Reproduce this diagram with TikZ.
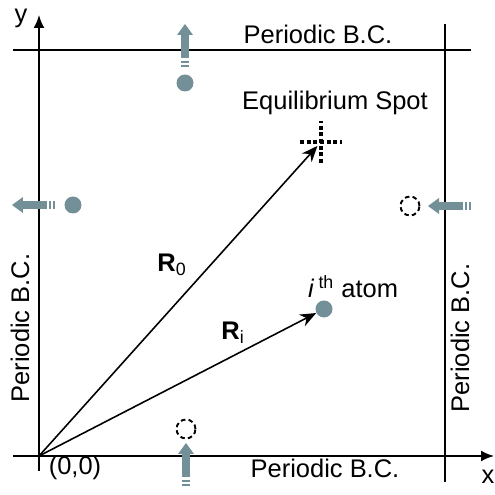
\documentclass[tikz,border=0pt]{standalone}
\usepackage{fontspec}
\setmainfont{Liberation Sans}
\usetikzlibrary{arrows.meta}
\definecolor{atom-grey}{HTML}{738F97}

\tikzset{
  lbl/.style={font=\fontsize{14.5}{16}\selectfont, inner sep=1pt},
  atom/.style={circle, fill=atom-grey, minimum size=0.34cm, inner sep=0pt},
  image atom/.style={circle, draw=black, line width=1.1pt, dash pattern=on 2.6pt off 1.8pt, minimum size=0.38cm, inner sep=0pt},
  vec/.style={line width=0.9pt, -{Stealth[length=3.2mm, width=2.6mm]}},
  % arrow showing where an atom leaves / enters the cell
  shift arrow/.pic={
    \fill[atom-grey] (0,-0.08) rectangle (0.04,0.08);
    \fill[atom-grey] (0.085,-0.08) rectangle (0.125,0.08);
    \fill[atom-grey] (0.17,-0.08) rectangle (0.645,0.08);
    \fill[atom-grey] (0.64,-0.16) -- (0.86,0) -- (0.64,0.16) -- cycle;
  }
}

\begin{document}
\begin{tikzpicture}
    \useasboundingbox (-0.78,-0.78) rectangle (9.12,9.12);

    % --- AXES AND CELL ---
    \coordinate (O) at (0,0);
    \coordinate (x end) at (9.10,0);
    \coordinate (y end) at (0,8.82);
    \draw[line width=1.1pt, -{Latex[length=2.6mm, width=2.2mm]}] (-0.52,0) -- (x end);
    \draw[line width=1.1pt, -{Latex[length=2.6mm, width=2.2mm]}] (0,-0.30) -- (y end);
    \node[lbl] (x lbl) at (8.98,-0.42) {x};
    \node[lbl] (y lbl) at (-0.36,8.76) {y};
    \node[lbl] (origin lbl) at (0.72,-0.24) {(0,0)};

    \draw[line width=0.8pt] (-0.52,8.12) -- (8.64,8.12);
    \draw[line width=0.8pt] (8.12,-0.52) -- (8.12,8.64);

    % periodic boundaries
    \node[lbl] (top bc) at (5.58,8.44) {Periodic B.C.};
    \node[lbl] (bottom bc) at (5.72,-0.24) {Periodic B.C.};
    \node[lbl, rotate=90] (left bc) at (-0.38,2.56) {Periodic B.C.};
    \node[lbl, rotate=90] (right bc) at (8.42,2.36) {Periodic B.C.};

    % --- EQUILIBRIUM SPOT AND ATOM ---
    \coordinate (eq) at (5.64,6.28);
    \draw[line width=2.2pt, dash pattern=on 2.2pt off 1.6pt] ([xshift=-0.42cm]eq) -- ([xshift=0.42cm]eq);
    \draw[line width=2.2pt, dash pattern=on 2.2pt off 1.6pt] ([yshift=-0.42cm]eq) -- ([yshift=0.42cm]eq);
    \node[lbl] (eq lbl) at (5.92,7.06) {Equilibrium Spot};

    \node[atom] (atom i) at (5.70,2.94) {};
    \node[lbl] (atom lbl) at (6.28,3.38) {\textit{i}\,\textsuperscript{th} atom};

    \draw[vec, shorten >=3pt] (O) -- (eq);
    \draw[vec] (O) -- (atom i);
    \node[lbl] (R0 lbl) at (2.66,3.82) {\textbf{R}\textsubscript{0}};
    \node[lbl] (Ri lbl) at (3.88,2.46) {\textbf{R}\textsubscript{i}};

    % --- ATOMS CROSSING THE BOUNDARIES ---
    \node[atom] (top atom) at (2.92,7.46) {};
    \node[atom] (left atom) at (0.68,5.02) {};
    \node[image atom] (right image) at (7.42,5.00) {};
    \node[image atom] (bottom image) at (2.94,0.54) {};

    \pic[rotate=90] at (2.92,7.78) {shift arrow};
    \pic[rotate=180] at (0.32,5.02) {shift arrow};
    \pic[rotate=180] at (8.64,5.00) {shift arrow};
    \pic[rotate=90] at (2.94,-0.60) {shift arrow};

\end{tikzpicture}
\end{document}
